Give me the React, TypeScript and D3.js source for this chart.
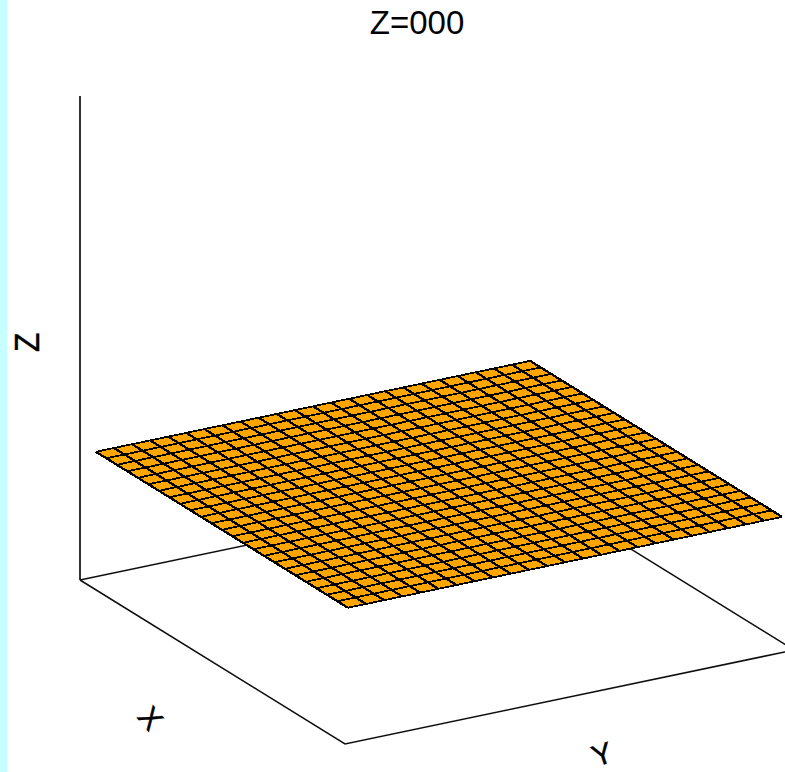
import React from 'react';
import * as d3 from 'd3';

// constants
const width = 785;
const height = 772;

// grid of the surface, 25 x 25
const xGrid = [-12, -11, -10, -9, -8, -7, -6, -5, -4, -3, -2, -1, 0, 1, 2, 3, 4, 5, 6, 7, 8, 9, 10, 11, 12];
const yGrid = [-12, -11, -10, -9, -8, -7, -6, -5, -4, -3, -2, -1, 0, 1, 2, 3, 4, 5, 6, 7, 8, 9, 10, 11, 12];
const zLevel = 0;
const xLimits = [-12, 12];
const yLimits = [-12, 12];
const zLimits = [-27, 73];
const titleText = 'Z=000';

// box geometry on the screen
const xEdge = { dx: 265, dy: 164 };
const yEdge = { dx: 449, dy: -94 };
const zScreen = d3.scaleLinear().domain(zLimits).range([615, 131]);
const centreX = d3.scaleLinear().domain([-27, 0]).range([437, 439]);
const xShrink = d3.scaleLinear().domain([-27, 0]).range([1, 0.951]);
const yShrink = d3.scaleLinear().domain([-27, 0]).range([1, 0.967]);
const xUnit = d3.scaleLinear().domain(xLimits).range([-0.5, 0.5]);
const yUnit = d3.scaleLinear().domain(yLimits).range([-0.5, 0.5]);

const project = (x: number, y: number, z: number): [number, number] => {
  const u = xUnit(x) * xShrink(z);
  const v = yUnit(y) * yShrink(z);
  return [
    centreX(z) + u * xEdge.dx + v * yEdge.dx,
    zScreen(z) + u * xEdge.dy + v * yEdge.dy,
  ];
};

const line = d3.line();

const App = () => {
  const [xMin, xMax] = xLimits;
  const [yMin, yMax] = yLimits;
  const [zMin, zMax] = zLimits;

  const floor = [
    project(xMin, yMin, zMin),
    project(xMax, yMin, zMin),
    project(xMax, yMax, zMin),
    project(xMin, yMax, zMin),
    project(xMin, yMin, zMin),
  ];
  const axisBase = project(xMin, yMin, zMin);

  const outline = [
    project(xMin, yMin, zLevel),
    project(xMax, yMin, zLevel),
    project(xMax, yMax, zLevel),
    project(xMin, yMax, zLevel),
  ];

  // lines running down the x direction are the heavy ones
  const xLines = yGrid.map(y => xGrid.map(x => project(x, y, zLevel)));
  const yLines = xGrid.map(x => yGrid.map(y => project(x, y, zLevel)));

  return (
    <svg width={width} height={height} style={{ position: 'absolute', left: 0, top: 0, background: '#fff' }}>
      <defs>
        <filter id="soft" x="-5%" y="-5%" width="110%" height="110%">
          <feGaussianBlur stdDeviation="0.4" />
        </filter>
      </defs>
      <rect x={0} y={0} width={7} height={height} fill="#c6ffff" />
      <text x={417} y={34} textAnchor="middle" fontFamily="Liberation Sans" fontSize={33} fill="#000">{titleText}</text>

      <g filter="url(#soft)">
        <path d={line(floor) || ''} fill="none" stroke="#111" strokeWidth={1.5} />
        <line x1={axisBase[0]} x2={axisBase[0]} y1={axisBase[1]} y2={zScreen(zMax) - 35} stroke="#111" strokeWidth={1.7} />
        <path d={(line(outline) || '') + 'Z'} fill="#ffa500" stroke="none" />
        <g fill="none" stroke="#000" shapeRendering="crispEdges">
          {yLines.map((l, i) => <path key={i} d={line(l) || ''} strokeWidth={1.8} />)}
          {xLines.map((l, i) => <path key={i} d={line(l) || ''} strokeWidth={2.3} />)}
        </g>
      </g>

      <g fontFamily="Liberation Sans" fontSize={30} fill="#000" textAnchor="middle" stroke="#000" strokeWidth={0.4}>
        <text transform="translate(26,342.5) rotate(-90) scale(1.05,1.2)" dy={10.7}>Z</text>
        <text transform="translate(151,718) rotate(50)" dy={10.7}>X</text>
        <text transform="translate(602,754) rotate(-18)" dy={10.7}>Y</text>
      </g>
    </svg>
  );
};

export default App;
